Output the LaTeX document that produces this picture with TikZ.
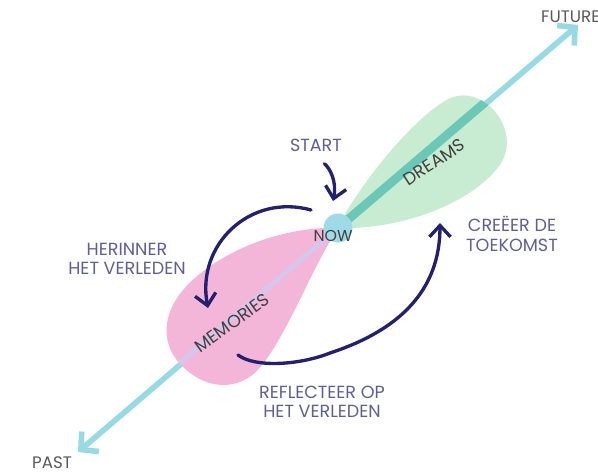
\documentclass[tikz,border=0pt]{standalone}
\usepackage{fontspec}
\setmainfont{Poppins}
\usetikzlibrary{arrows.meta}
\definecolor{timeline}{RGB}{152,218,228}
\definecolor{navy}{RGB}{36,32,112}
\definecolor{textgray}{RGB}{96,94,150}
\definecolor{dreamgreen}{RGB}{200,236,210}
\definecolor{dreamstripe}{RGB}{108,200,182}
\definecolor{memorypink}{RGB}{244,182,216}
\definecolor{memorystripe}{RGB}{214,198,236}
\definecolor{nowblue}{RGB}{160,218,232}
\newcommand{\dreamlobe}{(0,0) .. controls (30,-15) and (120,-35) .. (165,-27) .. controls (205,-20) and (205,45) .. (165,57) .. controls (120,68) and (50,45) .. (0,0)}
\newcommand{\memorylobe}{(0,0) .. controls (30,28) and (85,55) .. (140,55) .. controls (185,55) and (212,30) .. (208,-5) .. controls (205,-40) and (180,-58) .. (155,-56) .. controls (115,-52) and (50,-15) .. (0,0)}

\begin{document}
\begin{tikzpicture}[x=0.02cm, y=-0.02cm, >={Straight Barb[length=6.5pt,width=12pt]},
  flow/.style={->, navy, line width=1.9pt, line cap=round},
  caption/.style={textgray, font=\fontsize{10}{11}\selectfont, align=center},
  endlabel/.style={black!65, font=\fontsize{9.5}{11}\selectfont},
  inlabel/.style={black!75, font=\fontsize{10}{11}\selectfont}]
\useasboundingbox (0,0) rectangle (598,473);

\coordinate (past) at (78,452);
\coordinate (future) at (578,25);
\coordinate (now) at (338,228);
\draw[timeline, line width=3.2pt, <->, >={Straight Barb[length=7pt,width=15pt]}] (past) -- (future);

\begin{scope}[shift={(now)}, rotate=40.5]
\fill[dreamgreen] \dreamlobe;
\clip \dreamlobe;
\draw[dreamstripe, line width=5pt] (0,0) -- (240,0);
\end{scope}

\begin{scope}[shift={(now)}, rotate=220.5]
\fill[memorypink] \memorylobe;
\clip \memorylobe;
\draw[memorystripe, line width=3pt] (0,0) -- (240,0);
\end{scope}

\node[circle, fill=nowblue, minimum size=0.58cm, inner sep=0pt] (nowdot) at (now) {};
\node[inlabel, font=\fontsize{9}{10}\selectfont] (nowlbl) at (333,236) {NOW};
\node[inlabel, rotate=33] (dreamslbl) at (434,162) {DREAMS};
\node[inlabel, rotate=36] (memorieslbl) at (232,323) {MEMORIES};

\node[endlabel] (pastlbl) at (52,463) {PAST};
\node[endlabel, anchor=west] (futurelbl) at (535,17) {FUTURE};

\node[caption] (start) at (316,145) {START};
\node[caption] (recall) at (127,259) {HERINNER\\HET VERLEDEN};
\node[caption] (create) at (512,234) {CREËER DE\\TOEKOMST};
\node[caption] (reflect) at (322,402) {REFLECTEER OP\\HET VERLEDEN};

\coordinate (startend) at (333,201);
\coordinate (recallstart) at (311,210);
\coordinate (recallend) at (208,308);
\coordinate (reflectstart) at (238,355);
\coordinate (createend) at (440,223);

\draw[flow, shorten <=6pt] (start.south) .. controls (330,168) and (337,182) .. (startend);
\draw[flow] (recallstart) .. controls (250,193) and (196,245) .. (recallend);
\draw[flow] (reflectstart) .. controls (255,368) and (300,365) .. (330,353) .. controls (400,330) and (440,290) .. (createend);
\end{tikzpicture}
\end{document}
